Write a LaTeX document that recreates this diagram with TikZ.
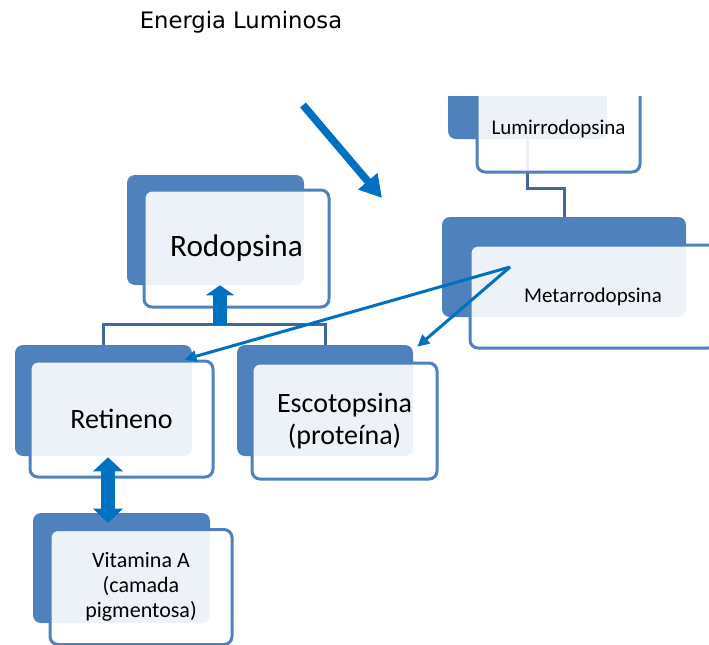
\documentclass[tikz,border=0pt]{standalone}
\usepackage{fontspec}
\setmainfont{Carlito}
\newfontfamily\luzfont{DejaVu Sans}
\usetikzlibrary{arrows.meta,calc}
\definecolor{caixa}{HTML}{4F81BD}
\definecolor{seta}{HTML}{0070C0}
\definecolor{linha}{HTML}{41679E}
\tikzset{
  fundo/.style 2 args={fill=caixa, rounded corners=6pt, inner sep=0pt,
    minimum width=#1*0.75pt, minimum height=#2*0.75pt},
  frente/.style 2 args={draw=caixa, line width=2.25pt, fill=white, fill opacity=0.9,
    text opacity=1, rounded corners=6pt, inner sep=0pt, align=center,
    minimum width=#1*0.75pt, minimum height=#2*0.75pt},
  ligacao/.style={draw=linha, line width=2.25pt},
  setafina/.style={draw=seta, line width=2.25pt, -{Triangle[length=9pt,width=8.5pt]}},
  setagrossa/.style={draw=seta, line width=10pt},
}

\begin{document}
\begin{tikzpicture}[x=0.75pt,y=-0.75pt]
  \useasboundingbox (0,0) rectangle (709,644);
  \clip (0,0) rectangle (709,644);

  \node[font=\luzfont\fontsize{17}{20}\selectfont] (luz) at (241,22) {Energia Luminosa};

  % caixas de fundo
  \begin{scope}
    \clip (0,96) rectangle (709,644);
    \node[fundo={159}{84}] (lumB) at (527.5,97) {};
  \end{scope}
  \node[fundo={244}{100}] (metB) at (564,267) {};
  \node[fundo={177}{110}] (rodB) at (215.5,230) {};
  \node[fundo={177}{111}] (retB) at (103.5,400.5) {};
  \node[fundo={176}{111}] (escB) at (325,400.5) {};
  \node[fundo={177}{110}] (vitB) at (121.5,568) {};

  \draw[ligacao] (lumB.south) -- ++(0,49) -| (metB.north);
  \draw[ligacao] (retB.north) -- ++(0,-20) -| (escB.north);

  % caixas da frente
  \begin{scope}
    \clip (0,96) rectangle (709,644);
    \node[frente={163}{86}, font=\fontsize{15.75}{19}\selectfont] (lumF) at (558.5,129) {Lumirrodopsina};
  \end{scope}
  \node[frente={246}{103}, font=\fontsize{15.75}{19}\selectfont] (metF) at (593,296.5) {Metarrodopsina};
  \node[frente={185}{117}, font=\fontsize{23.4}{28}\selectfont] (rodF) at (236.5,248.5) {Rodopsina};
  \node[frente={183}{116}, font=\fontsize{21}{24}\selectfont] (retF) at (121.5,419) {Retineno};
  \node[frente={185}{116}, font=\fontsize{21}{24}\selectfont] (escF) at (344.5,421) {Escotopsina\\(proteína)};
  \node[frente={182}{115}, font=\fontsize{16.5}{18.75}\selectfont] (vitF) at (141,587) {Vitamina A\\(camada\\pigmentosa)};

  % setas
  \coordinate (juncao) at (220,325);
  \draw[setagrossa, -{Triangle[length=7.5pt,width=21pt]}] (juncao) -- (juncao |- rodB.south);
  \draw[setagrossa, {Triangle[length=10.5pt,width=21.75pt]}-{Triangle[length=10.5pt,width=21.75pt]}]
    ($(retB.south)+(4.5,1)$) -- ($(vitB.north)+(-13.5,10)$);

  \coordinate (metS) at (510,267);
  \draw[setafina] (metS) -- ($(retF.north east)+(-30,0)$);
  \draw[setafina] (metS) -- ($(escB.north east)+(4,2)$);

  \coordinate (luzA) at (303,105);
  \coordinate (luzB) at (382,198);
  \draw[draw=seta, line width=5.7pt, -{Triangle[length=16.5pt,width=18pt]}] (luzA) -- (luzB);
\end{tikzpicture}
\end{document}
